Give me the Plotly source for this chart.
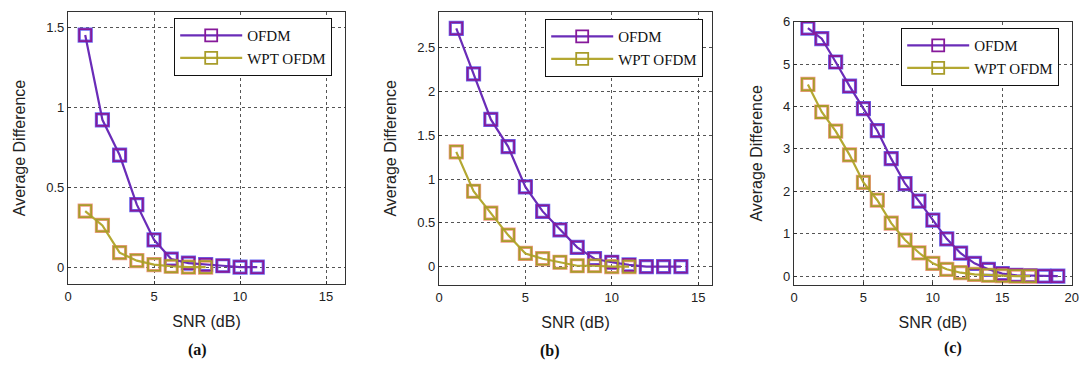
import plotly.graph_objects as go

# ---------------- data ----------------
snr_a_ofdm = [1, 2, 3, 4, 5, 6, 7, 8, 9, 10, 11]
diff_a_ofdm = [1.45, 0.92, 0.70, 0.39, 0.17, 0.05, 0.025, 0.015, 0.008, 0.0, 0.0]
snr_a_wpt = [1, 2, 3, 4, 5, 6, 7, 8]
diff_a_wpt = [0.35, 0.26, 0.09, 0.04, 0.015, 0.005, 0.0, 0.0]

snr_b_ofdm = [1, 2, 3, 4, 5, 6, 7, 8, 9, 10, 11, 12, 13, 14]
diff_b_ofdm = [2.72, 2.20, 1.68, 1.37, 0.91, 0.63, 0.42, 0.22, 0.09, 0.05, 0.02, 0.0, 0.0, 0.0]
snr_b_wpt = [1, 2, 3, 4, 5, 6, 7, 8, 9, 10, 11]
diff_b_wpt = [1.31, 0.86, 0.61, 0.36, 0.15, 0.09, 0.05, 0.01, 0.01, 0.0, 0.0]

snr_c_ofdm = list(range(1, 20))
diff_c_ofdm = [5.85, 5.60, 5.05, 4.48, 3.95, 3.43, 2.77, 2.18, 1.77, 1.32, 0.88, 0.54,
               0.30, 0.16, 0.06, 0.02, 0.01, 0.0, 0.0]
snr_c_wpt = list(range(1, 18))
diff_c_wpt = [4.52, 3.87, 3.42, 2.86, 2.21, 1.79, 1.25, 0.85, 0.55, 0.30, 0.16, 0.08,
              0.04, 0.02, 0.01, 0.0, 0.0]

series_names = ["OFDM", "WPT OFDM"]
panel_labels = ["(a)", "(b)", "(c)"]
x_title = "SNR (dB)"
y_title = "Average Difference"

# ---------------- style ----------------
OFDM_LINE = "#6a2cb8"
OFDM_MARK = "#86199a"
OFDM_HALO = "#6a6cf2"
WPT_LINE = "#b4a832"
WPT_MARK = "#a89c2a"
WPT_HALO = "#f29a88"

panels = [
    dict(xo=snr_a_ofdm, yo=diff_a_ofdm, xw=snr_a_wpt, yw=diff_a_wpt,
         xdom=[68 / 1080, 345 / 1080], ydom=[1 - 284 / 367, 1 - 12 / 367],
         xr=[0, 16.1], yr=[-0.106, 1.594], xt=[0, 5, 10, 15], yt=[0, 0.5, 1, 1.5],
         leg=(174, 18), lab=(197, 350)),
    dict(xo=snr_b_ofdm, yo=diff_b_ofdm, xw=snr_b_wpt, yw=diff_b_wpt,
         xdom=[439 / 1080, 712 / 1080], ydom=[1 - 285 / 367, 1 - 11.7 / 367],
         xr=[0, 15.8], yr=[-0.21, 2.91], xt=[0, 5, 10, 15], yt=[0, 0.5, 1, 1.5, 2, 2.5],
         leg=(545, 19), lab=(550, 351)),
    dict(xo=snr_c_ofdm, yo=diff_c_ofdm, xw=snr_c_wpt, yw=diff_c_wpt,
         xdom=[794 / 1080, 1071.7 / 1080], ydom=[1 - 285 / 367, 1 - 21.7 / 367],
         xr=[0, 20], yr=[-0.21, 6.0], xt=[0, 5, 10, 15, 20], yt=[0, 1, 2, 3, 4, 5, 6],
         leg=(901, 28), lab=(953, 348)),
]

fig = go.Figure()
layout = dict(
    width=1080, height=367,
    margin=dict(l=0, r=0, t=0, b=0),
    paper_bgcolor="white", plot_bgcolor="white",
    showlegend=True,
    annotations=[],
)

for i, p in enumerate(panels):
    n = "" if i == 0 else str(i + 1)
    xa, ya = "x" + n, "y" + n
    legname = "legend" + n
    # halo traces (no legend)
    fig.add_trace(go.Scatter(x=p["xo"], y=p["yo"], mode="markers", xaxis=xa, yaxis=ya,
                             marker=dict(symbol="square-open", size=12, color=OFDM_HALO,
                                         line=dict(width=3.2)),
                             showlegend=False, hoverinfo="skip"))
    fig.add_trace(go.Scatter(x=p["xw"], y=p["yw"], mode="markers", xaxis=xa, yaxis=ya,
                             marker=dict(symbol="square-open", size=12, color=WPT_HALO,
                                         line=dict(width=3.2)),
                             showlegend=False, hoverinfo="skip"))
    fig.add_trace(go.Scatter(x=p["xo"], y=p["yo"], mode="lines+markers", name=series_names[0],
                             xaxis=xa, yaxis=ya, legend=legname, legendgroup="o" + n,
                             line=dict(color=OFDM_LINE, width=2.2),
                             marker=dict(symbol="square-open", size=12, color=OFDM_MARK,
                                         line=dict(width=1.8))))
    fig.add_trace(go.Scatter(x=p["xw"], y=p["yw"], mode="lines+markers", name=series_names[1],
                             xaxis=xa, yaxis=ya, legend=legname, legendgroup="w" + n,
                             line=dict(color=WPT_LINE, width=2.2),
                             marker=dict(symbol="square-open", size=12, color=WPT_MARK,
                                         line=dict(width=1.8))))
    axcommon = dict(showline=True, mirror=True, linecolor="#333333", linewidth=1.2,
                    showgrid=True, gridcolor="#555555", griddash="dot", gridwidth=1,
                    zeroline=False, ticks="inside", ticklen=3, tickcolor="#333333",
                    automargin=False,
                    tickfont=dict(family="Arial, Liberation Sans", size=13, color="#222222"))
    layout["xaxis" + n] = dict(domain=p["xdom"], range=p["xr"], tickvals=p["xt"],
                               anchor=ya,
                               title=dict(text=x_title, standoff=13,
                                          font=dict(family="Arial, Liberation Sans", size=16,
                                                    color="#222222")),
                               **axcommon)
    layout["yaxis" + n] = dict(domain=p["ydom"], range=p["yr"], tickvals=p["yt"],
                               anchor=xa,
                               title=dict(text=y_title, standoff=16,
                                          font=dict(family="Arial, Liberation Sans", size=16,
                                                    color="#222222")),
                               **axcommon)
    layout[legname] = dict(x=p["leg"][0] / 1080, y=1 - p["leg"][1] / 367,
                           xanchor="left", yanchor="top",
                           bgcolor="white", bordercolor="#111111", borderwidth=1.2,
                           font=dict(family="Liberation Serif, Times New Roman", size=15,
                                     color="#111111"),
                           itemwidth=62, tracegroupgap=0, traceorder="grouped")
    layout["annotations"].append(dict(text="<b>" + panel_labels[i] + "</b>",
                                      x=p["lab"][0] / 1080, y=1 - p["lab"][1] / 367,
                                      xref="paper", yref="paper", showarrow=False,
                                      xanchor="center", yanchor="middle",
                                      font=dict(family="Liberation Serif, Times New Roman",
                                                size=16, color="#111111")))

fig.update_layout(**layout)
fig.write_html("out.html", config={"displayModeBar": False},
               post_script="document.body.style.margin='0';document.body.style.overflow='hidden';")
